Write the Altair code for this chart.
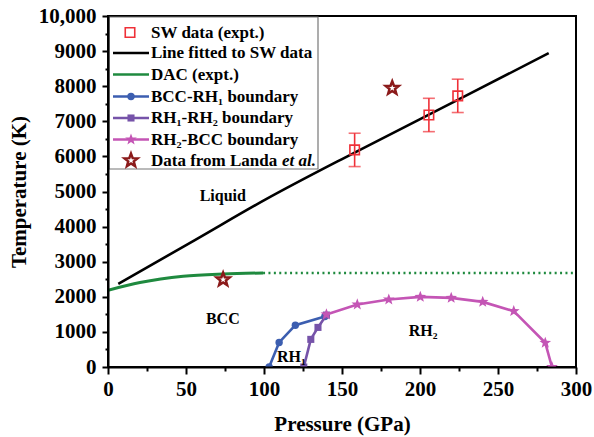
import math
import altair as alt
import pandas as pd

# ---------------- data ----------------
sw_p = [158.1, 205.7, 224.2]
sw_t = [6185, 7180, 7725]
sw_err = [475, 475, 475]

fit_p = [6.6, 55.7, 100.5, 158.1, 224.2, 282.5]
fit_t = [2370, 3615, 4760, 6110, 7610, 8940]

dac_p = [0, 20.5, 48.2, 73.8, 99.4]
dac_t = [2187, 2406, 2585, 2650, 2679]
dac_ext_p = [99.4, 300]
dac_ext_t = [2679, 2679]

bcc_rh1_p = [103.3, 109.7, 120.1, 139.0]
bcc_rh1_t = [0, 700, 1190, 1440]
rh1_rh2_p = [125.5, 130.0, 134.6, 140.0]
rh1_rh2_t = [0, 787, 1128, 1480]
rh2_bcc_p = [140.0, 159.8, 180.0, 200.2, 220.0, 240.2, 260.1, 280.3, 284.6]
rh2_bcc_t = [1497, 1781, 1923, 1997, 1969, 1855, 1591, 690, 0]

landa_p = [73.8, 182.2]
landa_t = [2491, 7946]

region_text = ["Liquid", "BCC", "RH\u2081", "RH\u2082"]
region_p = [73.6, 73.6, 117.6, 202.0]
region_t = [4886, 1364, 293, 1023]

legend_labels = ["SW data (expt.)", "Line fitted to SW data", "DAC (expt.)",
                 "BCC-RH\u2081 boundary", "RH\u2081-RH\u2082 boundary",
                 "RH\u2082-BCC boundary", "Data from Landa "]
legend_italic = "et al."

# ---------------- styles ----------------
FONT = "Liberation Serif"
RED = "#ef3038"
GREEN = "#1f8a3f"
BLUE = "#3c5eb0"
PURPLE = "#7653a9"
PINK = "#c455b5"
DARKRED = "#8b1a1a"


def star_path(inner=0.42):
    pts = []
    for k in range(10):
        r = 1.0 if k % 2 == 0 else inner
        a = math.radians(-90 + 36 * k)
        pts.append(f"{r * math.cos(a):.3f},{r * math.sin(a):.3f}")
    return "M" + "L".join(pts) + "Z"


STAR = star_path()

x_axis = alt.Axis(
    values=list(range(0, 301, 25)), format="d", tickCount=100,
    labelExpr="datum.value % 50 === 0 ? datum.label : ''",
    tickSize={"condition": {"test": "datum.value % 50 === 0", "value": 7}, "value": 4},
    tickColor="black", tickWidth=2, domainColor="black", domainWidth=2,
    labelFont=FONT, labelFontWeight="bold", labelFontSize=21, labelColor="black",
    labelPadding=4, titleFont=FONT, titleFontWeight="bold", titleFontSize=21,
    titleColor="black", titlePadding=14, grid=False, zindex=1, labelFlush=False,
    labelOverlap=False,
)
y_axis = alt.Axis(
    values=list(range(0, 10001, 500)), format="d", tickCount=100,
    labelExpr="datum.value % 1000 === 0 ? (datum.value >= 10000 ? '10,000' : datum.label) : ''",
    tickSize={"condition": {"test": "datum.value % 1000 === 0", "value": 6}, "value": 3},
    tickColor="black", tickWidth=2, domainColor="black", domainWidth=2,
    labelFont=FONT, labelFontWeight="bold", labelFontSize=21, labelColor="black",
    labelPadding=6, titleFont=FONT, titleFontWeight="bold", titleFontSize=21,
    titleColor="black", titlePadding=9, grid=False, zindex=1, labelFlush=False,
    labelOverlap=False,
)
X = alt.X("p:Q", scale=alt.Scale(domain=[0, 300], nice=False), axis=x_axis, title="Pressure (GPa)")
Y = alt.Y("t:Q", scale=alt.Scale(domain=[0, 10000], nice=False), axis=y_axis, title="Temperature (K)")


def df(p, t, **extra):
    d = pd.DataFrame({"p": p, "t": t})
    for k, v in extra.items():
        d[k] = v
    return d


layers = []

# fitted line
layers.append(alt.Chart(df(fit_p, fit_t)).mark_line(color="black", strokeWidth=2.6, interpolate="monotone",
                                                    clip=True).encode(x=X, y=Y))
# DAC
layers.append(alt.Chart(df(dac_p, dac_t)).mark_line(color=GREEN, strokeWidth=3, interpolate="monotone", clip=True).encode(x=X, y=Y))
layers.append(alt.Chart(df(dac_ext_p, dac_ext_t)).mark_line(color=GREEN, strokeWidth=2.5, strokeDash=[2, 3.4], clip=True).encode(x=X, y=Y))

# SW data with error bars
sw = df(sw_p, sw_t, lo=[a - b for a, b in zip(sw_t, sw_err)], hi=[a + b for a, b in zip(sw_t, sw_err)])
layers.append(alt.Chart(sw).mark_rule(color=RED, strokeWidth=1.6).encode(x=X, y=alt.Y("lo:Q"), y2="hi:Q"))
for col in ["lo", "hi"]:
    layers.append(alt.Chart(sw).mark_tick(color=RED, thickness=1.6, size=12, orient="horizontal").encode(x=X, y=alt.Y(f"{col}:Q")))
layers.append(alt.Chart(sw).mark_point(shape="square", size=90, color=RED, strokeWidth=1.6, filled=False,
                                       opacity=1).encode(x=X, y=Y))

# boundaries
layers.append(alt.Chart(df(bcc_rh1_p, bcc_rh1_t)).mark_line(color=BLUE, strokeWidth=2.6, clip=True,
              point=alt.OverlayMarkDef(shape="circle", size=55, filled=True, color=BLUE)).encode(x=X, y=Y))
layers.append(alt.Chart(df(rh1_rh2_p, rh1_rh2_t)).mark_line(color=PURPLE, strokeWidth=2.6, clip=True,
              point=alt.OverlayMarkDef(shape="square", size=50, filled=True, color=PURPLE)).encode(x=X, y=Y))
layers.append(alt.Chart(df(rh2_bcc_p, rh2_bcc_t)).mark_line(color=PINK, strokeWidth=2.6, clip=True,
              point=alt.OverlayMarkDef(shape=STAR, size=150, filled=True, color=PINK)).encode(x=X, y=Y))

# Landa data
layers.append(alt.Chart(df(landa_p, landa_t)).mark_point(shape=STAR, size=190, stroke=DARKRED, fill="white",
              filled=False, strokeWidth=2.5, fillOpacity=1).encode(x=X, y=Y))

# region labels
layers.append(alt.Chart(df(region_p, region_t, txt=region_text)).mark_text(
    font=FONT, fontWeight="bold", fontSize=16, color="black").encode(x=X, y=Y, text="txt:N"))

# ---------------- legend (drawn manually) ----------------
one = pd.DataFrame({"k": [0]})
layers.append(alt.Chart(one).mark_rect(fill="white", stroke="#777777", strokeWidth=1.2).encode(
    x=alt.value(1), x2=alt.value(210), y=alt.value(1), y2=alt.value(153)))

row_y = [16.5, 37, 58.5, 80.5, 102, 123.5, 144.5]
line_specs = [None, ("black", None), (GREEN, None), (BLUE, "circle"), (PURPLE, "square"), (PINK, "star"), None]
for i, ry in enumerate(row_y):
    spec = line_specs[i]
    if spec is not None:
        colr, shp = spec
        layers.append(alt.Chart(one).mark_rule(color=colr, strokeWidth=2.6).encode(
            x=alt.value(5), x2=alt.value(41), y=alt.value(ry)))
        if shp is not None:
            sz = {"circle": 55, "square": 50, "star": 150}[shp]
            shape_val = STAR if shp == "star" else shp
            layers.append(alt.Chart(one).mark_point(shape=shape_val, size=sz, filled=True, color=colr, opacity=1).encode(
                x=alt.value(23), y=alt.value(ry)))
    layers.append(alt.Chart(one).mark_text(font=FONT, fontWeight="bold", fontSize=17, color="black",
                                           align="left", baseline="middle").encode(
        x=alt.value(43), y=alt.value(ry), text=alt.value(legend_labels[i])))

layers.append(alt.Chart(one).mark_point(shape="square", size=90, color=RED, strokeWidth=1.6, filled=False,
                                        opacity=1).encode(x=alt.value(22), y=alt.value(row_y[0])))
layers.append(alt.Chart(one).mark_point(shape=STAR, size=190, stroke=DARKRED, fill="white", filled=False,
                                        strokeWidth=2.5, fillOpacity=1).encode(x=alt.value(23), y=alt.value(row_y[6])))
layers.append(alt.Chart(one).mark_text(font=FONT, fontWeight="bold", fontStyle="italic", fontSize=17, color="black",
                                       align="left", baseline="middle").encode(
    x=alt.value(174), y=alt.value(row_y[6]), text=alt.value(legend_italic)))

chart = alt.layer(*layers).properties(
    width=468, height=351,
    autosize=alt.AutoSizeParams(type="none"),
    padding={"left": 108, "top": 16, "right": 18, "bottom": 70},
    background="white",
).configure_view(stroke="black", strokeWidth=2)

chart.save("out.html", embed_options={"renderer": "svg", "actions": False})
